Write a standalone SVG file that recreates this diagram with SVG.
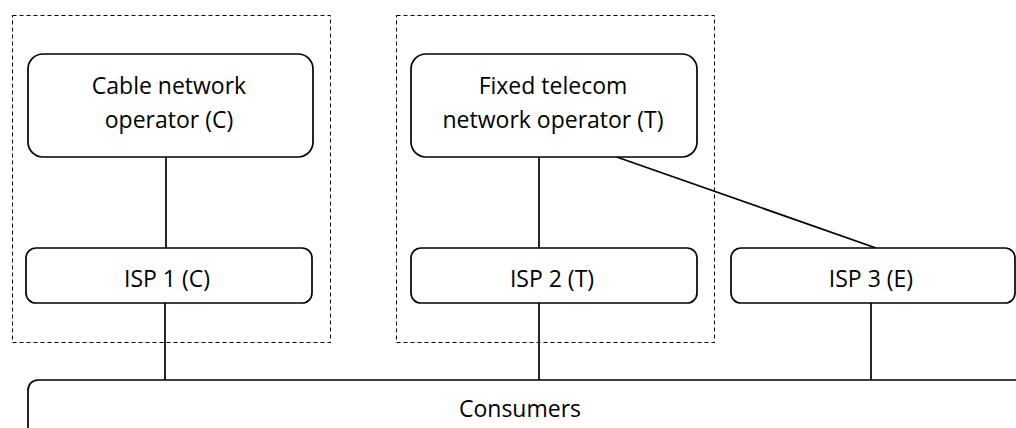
<svg xmlns="http://www.w3.org/2000/svg" width="1016" height="428" viewBox="0 0 1016 428">
<style>
.box{fill:#fff;stroke:#000;stroke-width:1.7}
.grp{fill:none;stroke:#000;stroke-width:1;stroke-dasharray:4 3}
.ln{stroke:#000;stroke-width:1.7;fill:none}
text{font-family:"Open Sans","Liberation Sans",sans-serif;font-size:23px;fill:#000;text-anchor:middle}
</style>
<rect width="1016" height="428" fill="#fff"/>
<g id="groups">
<rect class="grp" x="12.5" y="15.5" width="318" height="327"/>
<rect class="grp" x="396.5" y="15.5" width="318" height="327"/>
</g>
<g id="connectors">
<line class="ln" x1="166" y1="157" x2="166" y2="248"/>
<line class="ln" x1="165" y1="303" x2="165" y2="380"/>
<line class="ln" x1="539" y1="157" x2="539" y2="248"/>
<line class="ln" x1="539" y1="303" x2="539" y2="380"/>
<line class="ln" x1="611" y1="155" x2="876" y2="248"/>
<line class="ln" x1="871" y1="303" x2="871" y2="380"/>
</g>
<g id="cable">
<rect class="box" x="28" y="54" width="285" height="103" rx="15"/>
<text x="169" y="94">Cable network</text>
<text x="169" y="128">operator (C)</text>
</g>
<g id="telecom">
<rect class="box" x="411" y="54" width="286" height="103" rx="15"/>
<text x="553" y="94">Fixed telecom</text>
<text x="553" y="128">network operator (T)</text>
</g>
<g id="isp1">
<rect class="box" x="26" y="248" width="286" height="55" rx="10"/>
<text x="167" y="287">ISP 1 (C)</text>
</g>
<g id="isp2">
<rect class="box" x="411" y="248" width="286" height="55" rx="10"/>
<text x="552" y="287">ISP 2 (T)</text>
</g>
<g id="isp3">
<rect class="box" x="731" y="248" width="284" height="55" rx="10"/>
<text x="871" y="287">ISP 3 (E)</text>
</g>
<g id="consumers">
<rect class="box" x="28" y="380" width="1010" height="70" rx="10"/>
<text x="520" y="417">Consumers</text>
</g>
</svg>
